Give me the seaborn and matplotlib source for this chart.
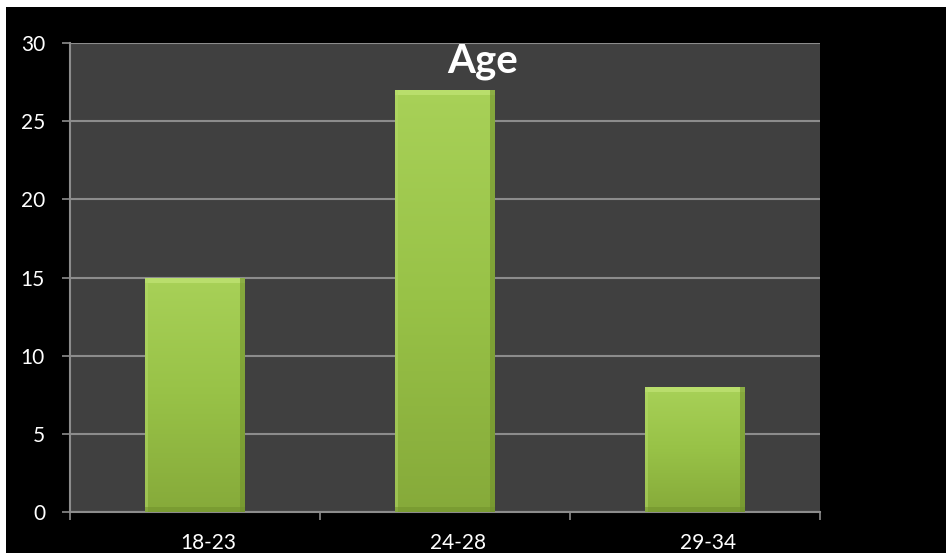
import numpy as np
import pandas as pd
import matplotlib
matplotlib.use("Agg")
import matplotlib.pyplot as plt
import matplotlib.transforms as mtransforms
from matplotlib.colors import LinearSegmentedColormap
from matplotlib.patches import Rectangle
import seaborn as sns

categories = ["18-23", "24-28", "29-34"]
counts = [15, 27, 8]
y_ticks = [0, 5, 10, 15, 20, 25, 30]
title = "Age"

sns.set_theme(style="dark")
plt.rcParams["font.family"] = ["Lato", "DejaVu Sans"]

W, H, DPI = 946, 553, 100
fig = plt.figure(figsize=(W / DPI, H / DPI), dpi=DPI, facecolor="white")
# black slide background (white strips at top and left)
bg = Rectangle((6 / W, 0), 1 - 6 / W, (H - 7) / H,
               transform=fig.transFigure, facecolor="black",
               edgecolor="none", zorder=-10)
fig.add_artist(bg)

ax = fig.add_axes([70 / W, (H - 512) / H, 750 / W, 469 / H])
ax.set_zorder(1)
ax.set_facecolor("#404040")

df = pd.DataFrame({"cat": categories, "n": counts})
sns.barplot(data=df, x="cat", y="n", color="#9cc84a", width=0.40,
            saturation=1, ax=ax, zorder=3, edgecolor="none")

ax.set_xlabel("")
ax.set_ylabel("")

# gradient fill on bars
cmap = LinearSegmentedColormap.from_list("g", ["#86aa3a", "#98c247", "#a8d158"])
grad = np.linspace(0, 1, 256).reshape(-1, 1)
for p in list(ax.patches):
    x0, y0 = p.get_x(), p.get_y()
    w, h = p.get_width(), p.get_height()
    im = ax.imshow(grad, cmap=cmap, origin="lower", aspect="auto",
                   extent=[x0, x0 + w, y0, y0 + h], zorder=4)
    im.set_clip_path(p)
    # bevel: light top strip, darker right strip and bottom
    ax.add_patch(Rectangle((x0, y0 + h - 0.35), w, 0.35, facecolor="#c2e476",
                           edgecolor="none", zorder=5, alpha=0.7))
    ax.add_patch(Rectangle((x0 + w - 0.02, y0), 0.02, h, facecolor="#6f8f2c",
                           edgecolor="none", zorder=5, alpha=0.6))
    ax.add_patch(Rectangle((x0, y0), 0.012, h, facecolor="#b4d96a",
                           edgecolor="none", zorder=5, alpha=0.5))
    ax.add_patch(Rectangle((x0, y0), w, 0.3, facecolor="#6f8f2c",
                           edgecolor="none", zorder=5, alpha=0.5))
ax.set_xlim(-0.5, len(categories) - 0.5)
ax.set_ylim(0, 30)
ax.set_yticks(y_ticks)

grid_c = "#8c8c8c"
ax.yaxis.grid(True, color=grid_c, linewidth=1.5, zorder=1)
ax.xaxis.grid(False)
ax.set_axisbelow(True)
for s in ["top", "right"]:
    ax.spines[s].set_visible(False)
for s in ["left", "bottom"]:
    ax.spines[s].set_visible(True)
    ax.spines[s].set_color(grid_c)
    ax.spines[s].set_linewidth(1.5)

ax.tick_params(axis="y", which="major", left=True, length=6, width=1.2,
               color=grid_c, labelcolor="white", labelsize=15, pad=12)
ax.set_xticks(range(len(categories)))
ax.set_xticklabels(categories)
ax.tick_params(axis="x", which="major", bottom=False, length=0,
               labelcolor="white", labelsize=15, pad=15)
ax.set_xticks(np.arange(-0.5, len(categories)), minor=True)
ax.tick_params(axis="x", which="minor", bottom=True, length=6, width=1.2,
               color=grid_c)

off = mtransforms.ScaledTranslation(13 / DPI, 0, fig.dpi_scale_trans)
for lab in ax.get_xticklabels():
    lab.set_transform(lab.get_transform() + off)

fig.text(483 / W, (H - 72) / H, title, color="white", fontsize=29,
         fontweight="bold", ha="center", va="baseline", zorder=10)

fig.savefig("out.png", dpi=DPI, facecolor=fig.get_facecolor())
